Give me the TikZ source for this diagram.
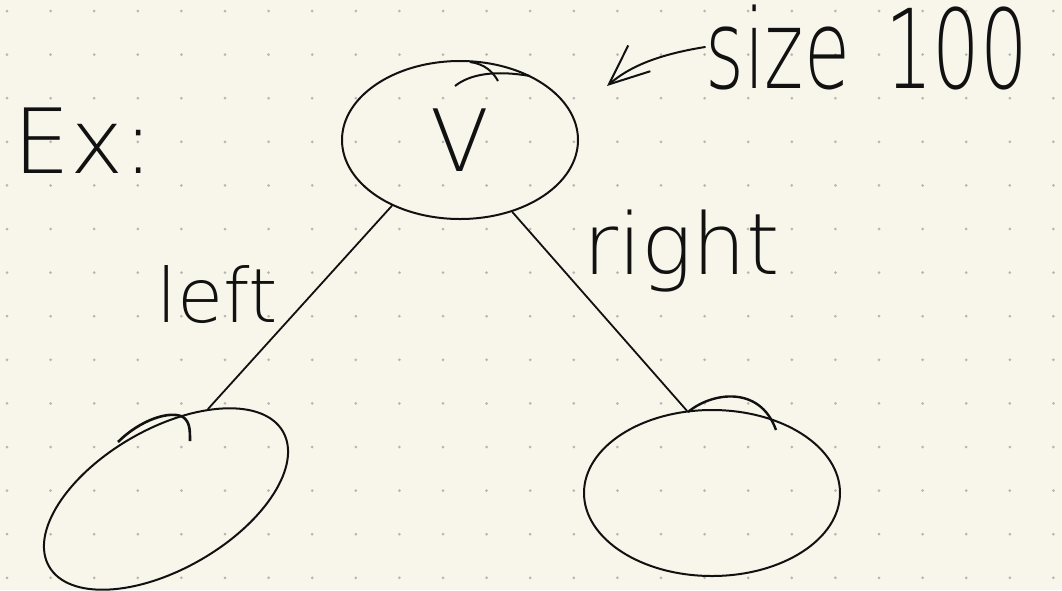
\documentclass[tikz,border=0pt]{standalone}
\usepackage{fontspec}
\newfontfamily\hand{DejaVu Sans ExtraLight}
\usetikzlibrary{shapes.geometric,arrows.meta}
\definecolor{paper}{HTML}{F8F6EB}
\definecolor{dotc}{HTML}{B8B7AF}
\definecolor{ink}{HTML}{111111}
\begin{document}
\begin{tikzpicture}[x=1pt,y=-1pt,
  pen/.style={draw=ink,line width=2pt},
  bubble/.style={pen,ellipse,inner sep=0pt},
  edge/.style={draw=ink,line width=1.8pt,line cap=round},
  hw/.style={text=ink,inner sep=0pt}
]
\fill[paper] (0,0) rectangle (1062,590);
\useasboundingbox (0,0) rectangle (1062,590);
\foreach \i in {0,...,24}{\foreach \j in {0,...,13}{\fill[dotc] ({7+43.6*\i},{11+43.6*\j}) circle (1.5);}}
% nodes
\node[bubble,minimum width=236pt,minimum height=158pt,font=\hand\fontsize{86}{86}\selectfont,text=ink] (v) at (460,140) {V};
\node[bubble,rotate=30,minimum width=270pt,minimum height=140pt] (l) at (166,499) {};
\node[bubble,minimum width=256pt,minimum height=166pt] (r) at (712,493) {};
% pen overlaps
\draw[pen] (455,86) .. controls (470,74) and (495,70) .. (530,76);
\draw[pen] (470,62) .. controls (485,64) and (493,72) .. (498,81);
\draw[pen,line width=2.6pt] (118,442) .. controls (140,420) and (170,410) .. (183,417) .. controls (190,422) and (190,430) .. (190,441);
\draw[pen,line width=2.4pt] (688,412) .. controls (712,392) and (760,385) .. (776,430);
% edges
\draw[edge] (v.224) -- (l.35);
\draw[edge] (v.-54) -- (r.107);
% labels
\node[hw,anchor=base west,font=\hand\fontsize{90}{90}\selectfont] (ex) at (13,173) {Ex:};
\node[hw,anchor=base west,font=\hand\fontsize{75}{75}\selectfont] (leftlbl) at (156,322) {left};
\node[hw,anchor=base west,font=\hand\fontsize{85}{85}\selectfont] (rightlbl) at (583,274) {right};
\node[hw,anchor=base west,xscale=0.68,font=\hand\fontsize{110}{110}\selectfont] (size) at (705,88) {size\hspace{0.15em} 100};
\coordinate (tip) at (607,86);
\draw[edge,line width=2pt,-{Straight Barb[length=40pt,width=34pt,line width=2pt]}] (size.west) .. controls (655,55) and (628,68) .. (tip);
\end{tikzpicture}
\end{document}
